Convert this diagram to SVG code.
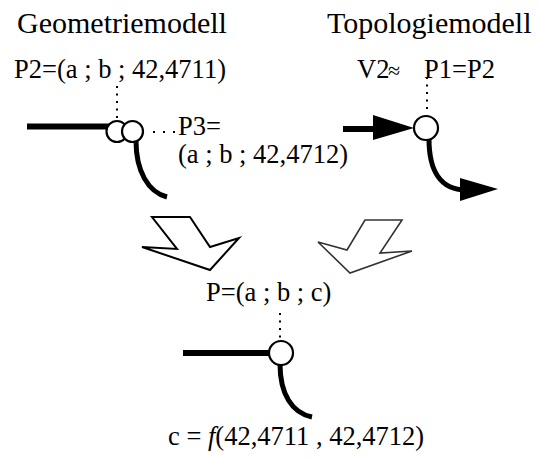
<svg xmlns="http://www.w3.org/2000/svg" width="538" height="459" viewBox="0 0 538 459">
<style>
text{font-family:"Liberation Serif","Times New Roman",serif;fill:#000}
.t{font-size:30px}
.l{font-size:26.5px}
.thick{fill:none;stroke:#000;stroke-width:6}
.curve{fill:none;stroke:#000;stroke-width:5}
.node{fill:#fff;stroke:#000;stroke-width:2.2}
.dot{fill:none;stroke:#000;stroke-width:2;stroke-dasharray:2 5.5}
</style>
<rect width="538" height="459" fill="#fff"/>
<g id="titles" font-family="Liberation Serif, serif">
<text class="t" x="17" y="33">Geometriemodell</text>
<text class="t" x="327" y="33">Topologiemodell</text>
</g>
<g id="connectors">
<line class="thick" x1="27" y1="126.5" x2="110" y2="126.5"/>
<path class="curve" d="M136,141 C136,171 148,192 167,197"/>
<line class="dot" x1="117" y1="86" x2="117" y2="119"/>
<line class="dot" x1="153" y1="132" x2="176" y2="132" style="stroke-dasharray:2 8"/>
<line class="thick" x1="343" y1="129" x2="378" y2="129"/>
<polygon points="373,115 414,128 373,140" fill="#000"/>
<path class="curve" d="M429,139 C429,170 440,190 466,190"/>
<polygon points="460,178 498,189 460,201" fill="#000"/>
<line class="dot" x1="427" y1="77" x2="427" y2="114"/>
<line class="thick" x1="183" y1="353" x2="270" y2="353"/>
<path class="curve" d="M280,364 C280,394 292,413 312,417"/>
<line class="dot" x1="280" y1="313" x2="280" y2="340"/>
</g>
<g id="geo-p2" font-family="Liberation Serif, serif">
<text class="l" x="14" y="78">P2=(a ; b ; 42,4711)</text>
<circle class="node" cx="117" cy="131.5" r="10.5"/>
</g>
<g id="geo-p3" font-family="Liberation Serif, serif">
<circle class="node" cx="132.5" cy="131.5" r="10.5"/>
<text class="l" x="178" y="135">P3=</text>
<text class="l" x="178" y="163">(a ; b ; 42,4712)</text>
</g>
<g id="topo-v2" font-family="Liberation Serif, serif">
<text class="l" x="357" y="78">V2</text>
<text x="388" y="78" style="font-size:22px">≈</text>
<text class="l" x="424" y="78">P1=P2</text>
<circle class="node" cx="426" cy="128" r="12"/>
</g>
<g id="arrow-left">
<polygon points="152,217 190,217 210,247 239,238 210,270 142,247 177,249" fill="none" stroke="#000" stroke-width="2"/>
</g>
<g id="arrow-right">
<polygon points="365,220 402,220 380,253 412,251 350,273 318,242 347,250" fill="none" stroke="#333" stroke-width="1.6"/>
</g>
<g id="result-p" font-family="Liberation Serif, serif">
<text class="l" x="206" y="301">P=(a ; b ; c)</text>
<circle class="node" cx="281" cy="353" r="12"/>
<text class="l" x="168" y="445">c = <tspan font-style="italic">f</tspan>(42,4711 , 42,4712)</text>
</g>
</svg>
